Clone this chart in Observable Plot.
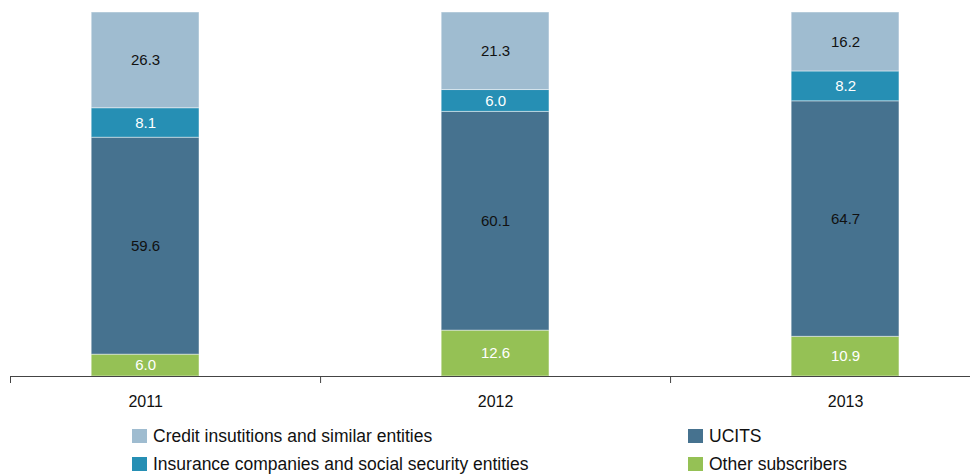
<!DOCTYPE html>
<html>
<head>
<meta charset="utf-8">
<script src="https://cdn.jsdelivr.net/npm/d3@7"></script>
<script src="https://cdn.jsdelivr.net/npm/@observablehq/plot@0.6"></script>
<style>
  html, body { margin: 0; padding: 0; background: #fff; }
  body { width: 970px; height: 475px; overflow: hidden; font-family: "Liberation Sans", Arial, sans-serif; }
  #legend {
    display: grid;
    grid-template-rows: 28px 28px;
    grid-template-columns: 556px auto;
    grid-auto-flow: column;
    padding-left: 132px;
    padding-top: 2px;
    font-size: 17.5px;
    color: #111;
  }
  .item { display: flex; align-items: center; white-space: nowrap; }
  .sw { width: 15px; height: 14px; margin-right: 6px; flex: none; }
</style>
</head>
<body>
<div id="chart"></div>
<div id="legend"></div>
<script>
const years = ["2011", "2012", "2013"];
const seriesNames = [
  "Credit insutitions and similar entities",
  "Insurance companies and social security entities",
  "UCITS",
  "Other subscribers"
];
const credit = [26.3, 21.3, 16.2];
const insurance = [8.1, 6.0, 8.2];
const ucits = [59.6, 60.1, 64.7];
const other = [6.0, 12.6, 10.9];
const colors = ["#9fbcd0", "#268fb4", "#46728f", "#95c155"];
const labelColors = ["#111", "#fff", "#111", "#fff"];

// stack from the bottom: Other, UCITS, Insurance, Credit
const valuesBySeries = [credit, insurance, ucits, other];
const stackOrder = [3, 2, 1, 0];
const rows = [];
years.forEach((year, i) => {
  let base = 0;
  for (const s of stackOrder) {
    const v = valuesBySeries[s][i];
    rows.push({i, year, s, series: seriesNames[s], value: v, y1: base, y2: base + v});
    base += v;
  }
});

const half = 0.154;
const plot = Plot.plot({
  width: 970,
  height: 420,
  marginLeft: 10,
  marginRight: 0,
  marginTop: 12,
  marginBottom: 44,
  style: {fontFamily: "'Liberation Sans', Arial, sans-serif", fontSize: "15px", background: "#fff"},
  x: {type: "linear", domain: [-0.386, 2.357], label: null},
  y: {domain: [0, 100], axis: null, label: null},
  color: {domain: seriesNames, range: colors},
  marks: [
    Plot.rectY(rows, {
      x1: d => d.i - half, x2: d => d.i + half,
      y1: "y1", y2: "y2",
      fill: "series",
      stroke: "#fff", strokeOpacity: 0.45, strokeWidth: 1
    }),
    Plot.text(rows, {
      x: "i", y: d => (d.y1 + d.y2) / 2,
      text: d => d.value.toFixed(1),
      fill: d => labelColors[d.s],
      fontSize: 15
    }),
    Plot.ruleY([0], {stroke: "#444", strokeWidth: 1.2}),
    Plot.axisX([-0.386, 0.5, 1.5], {tickSize: 7, tickFormat: () => "", stroke: "#444", label: null}),
    Plot.axisX([0, 1, 2], {tickSize: 0, tickPadding: 19, tickFormat: i => years[i], fontSize: 16, fill: "#111", label: null})
  ]
});
document.getElementById("chart").appendChild(plot);

const legendOrder = [0, 1, 2, 3];
const legend = document.getElementById("legend");
for (const s of legendOrder) {
  const item = document.createElement("div");
  item.className = "item";
  const sw = document.createElement("span");
  sw.className = "sw";
  sw.style.background = colors[s];
  const t = document.createElement("span");
  t.textContent = seriesNames[s];
  item.appendChild(sw);
  item.appendChild(t);
  legend.appendChild(item);
}
</script>
</body>
</html>
